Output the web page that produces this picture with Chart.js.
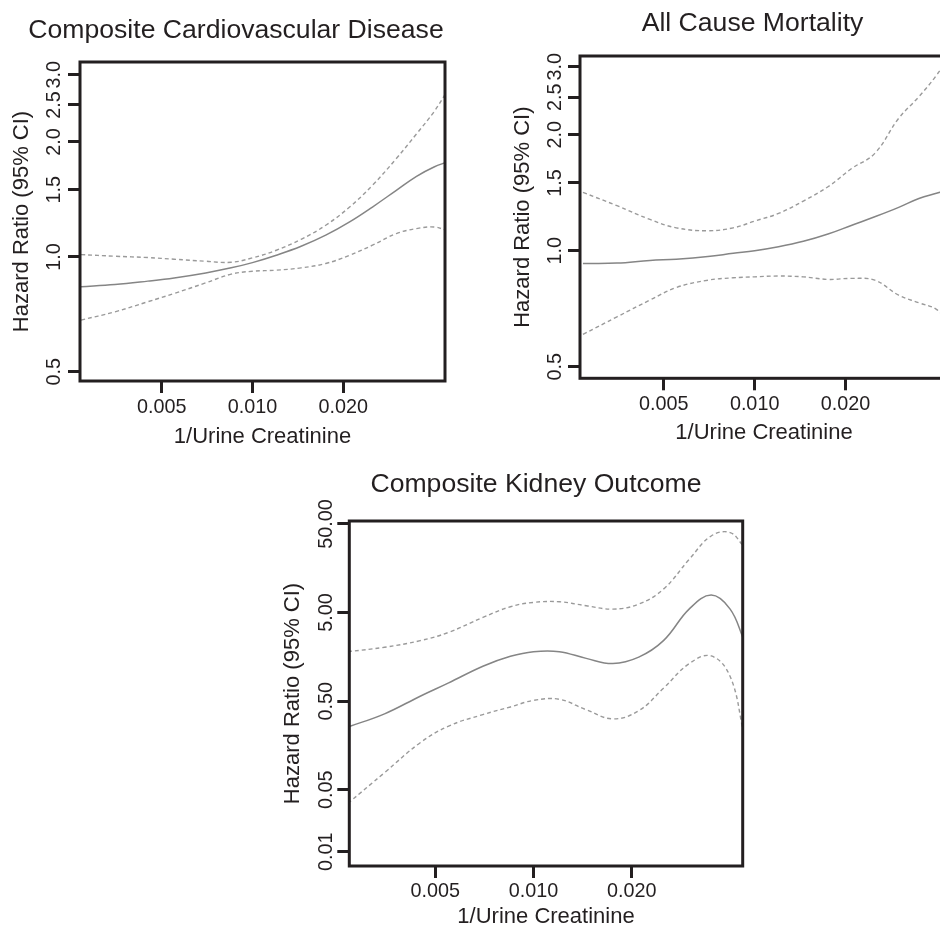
<!DOCTYPE html>
<html><head><meta charset="utf-8">
<script src="https://cdn.jsdelivr.net/npm/chart.js@4.4.1/dist/chart.umd.min.js"></script>
<style>
html,body{margin:0;padding:0;background:#fff;overflow:hidden;width:940px;height:928px;position:relative;}
canvas{position:absolute;}
</style></head><body>
<canvas id="c1" width="472" height="462" style="left:0px;top:0px"></canvas>
<canvas id="c2" width="565" height="460" style="left:470px;top:0px"></canvas>
<canvas id="c3" width="572" height="468" style="left:250px;top:460px"></canvas>
<script>
// ---- data ----
const xValues = [0.0027, 0.0035, 0.0045, 0.0055, 0.007, 0.0085, 0.010, 0.012, 0.0145, 0.0175, 0.021, 0.025, 0.030, 0.035, 0.040, 0.044];

const cvdHR    = [0.835, 0.846, 0.864, 0.881, 0.908, 0.936, 0.966, 1.010, 1.066, 1.140, 1.235, 1.351, 1.494, 1.626, 1.720, 1.770];
const cvdUpper = [1.014, 1.004, 0.996, 0.986, 0.974, 0.968, 0.994, 1.041, 1.112, 1.210, 1.351, 1.540, 1.810, 2.100, 2.400, 2.700];
const cvdLower = [0.683, 0.718, 0.763, 0.802, 0.855, 0.901, 0.917, 0.923, 0.936, 0.961, 1.010, 1.073, 1.151, 1.186, 1.198, 1.174];

const acmHR    = [0.927, 0.929, 0.944, 0.951, 0.966, 0.985, 1.000, 1.024, 1.058, 1.105, 1.165, 1.225, 1.296, 1.367, 1.410, 1.440];
const acmUpper = [1.417, 1.309, 1.206, 1.147, 1.127, 1.147, 1.194, 1.250, 1.346, 1.466, 1.636, 1.789, 2.205, 2.510, 2.850, 3.200];
const acmLower = [0.607, 0.674, 0.745, 0.803, 0.839, 0.851, 0.856, 0.860, 0.856, 0.843, 0.848, 0.839, 0.767, 0.733, 0.705, 0.650];

const kidHR    = [0.255, 0.360, 0.569, 0.804, 1.240, 1.605, 1.810, 1.810, 1.520, 1.330, 1.570, 2.410, 5.500, 7.870, 5.470, 2.500];
const kidUpper = [1.81, 2.03, 2.41, 2.99, 4.41, 5.82, 6.51, 6.62, 5.97, 5.47, 6.23, 9.20, 20.0, 36.6, 40.0, 28.0];
const kidLower = [0.035, 0.078, 0.170, 0.262, 0.353, 0.430, 0.510, 0.525, 0.400, 0.316, 0.390, 0.700, 1.330, 1.620, 0.950, 0.220];

const xTicks = [0.005, 0.010, 0.020];
const xTickLabels = ['0.005', '0.010', '0.020'];
const yTicksHR = [0.5, 1.0, 1.5, 2.0, 2.5, 3.0];
const yTickLabelsHR = ['0.5', '1.0', '1.5', '2.0', '2.5', '3.0'];
const yTicksKid = [0.01, 0.05, 0.5, 5, 50];
const yTickLabelsKid = ['0.01', '0.05', '0.50', '5.00', '50.00'];

const titles = ['Composite Cardiovascular Disease', 'All Cause Mortality', 'Composite Kidney Outcome'];
const xAxisTitle = '1/Urine Creatinine';
const yAxisTitle = 'Hazard Ratio (95% CI)';

// ---- style ----
const INK = '#231f20';
Chart.defaults.font.family = '"Liberation Sans", Arial, sans-serif';
Chart.defaults.color = INK;

const framePlugin = {
  id: 'frame',
  afterDatasetsDraw(chart) {
    const {ctx, chartArea: a} = chart;
    ctx.save();
    ctx.strokeStyle = INK;
    ctx.lineWidth = 3;
    ctx.strokeRect(a.left, a.top, a.right - a.left, a.bottom - a.top);
    ctx.restore();
  }
};

function pts(ys) { return xValues.map((x, i) => ({x: x, y: ys[i]})); }

function makePanel(id, p) {
  new Chart(document.getElementById(id), {
    type: 'line',
    data: {
      datasets: [
        {data: pts(p.up), borderColor: '#9a9a9a', borderWidth: 1.4, borderDash: [4, 3], pointRadius: 0, tension: 0.4, fill: false},
        {data: pts(p.lo), borderColor: '#9a9a9a', borderWidth: 1.4, borderDash: [4, 3], pointRadius: 0, tension: 0.4, fill: false},
        {data: pts(p.hr), borderColor: '#858585', borderWidth: 1.5, pointRadius: 0, tension: 0.4, fill: false}
      ]
    },
    options: {
      responsive: false,
      animation: false,
      events: [],
      layout: {padding: 0},
      plugins: {
        legend: {display: false},
        tooltip: {enabled: false},
        title: {display: true, text: p.title, font: {size: 26.6, weight: 'normal', lineHeight: 1.2}, color: INK,
                padding: {top: p.tPad[0], bottom: p.tPad[1]}}
      },
      scales: {
        x: {
          type: 'logarithmic', position: 'bottom', min: p.xMin, max: p.xMax,
          afterBuildTicks: s => { s.ticks = xTicks.map(v => ({value: v})); },
          afterFit: s => { s.height = p.xH; },
          ticks: {autoSkip: false, maxRotation: 0, minRotation: 0, padding: p.xTickPad, font: {size: 19.8, lineHeight: 1.2}, color: INK,
                  callback: (v, i) => xTickLabels[i]},
          grid: {display: true, drawOnChartArea: false, drawTicks: true, tickLength: 12, tickWidth: 3, tickColor: INK},
          border: {display: false},
          title: {display: true, text: xAxisTitle, font: {size: 22, lineHeight: p.xTitleLH}, color: INK, padding: {top: 0, bottom: p.xTitlePad}}
        },
        y: {
          type: 'logarithmic', position: 'left', min: p.yMin, max: p.yMax,
          afterBuildTicks: s => { s.ticks = p.yTicks.map(v => ({value: v})); },
          afterFit: s => { s.width = p.yW; },
          ticks: {autoSkip: false, minRotation: 90, maxRotation: 90, crossAlign: 'center', padding: p.yTickPad,
                  font: {size: 19.8, lineHeight: 1.2}, color: INK, callback: (v, i) => p.yLabels[i]},
          grid: {display: true, drawOnChartArea: false, drawTicks: true, tickLength: 12, tickWidth: 3, tickColor: INK},
          border: {display: false},
          title: {display: true, text: yAxisTitle, font: {size: 22, lineHeight: 1.2}, color: INK, padding: {top: p.yTitlePad, bottom: 0}}
        },
        sp: {
          axis: 'y', type: 'linear', position: 'right', display: true,
          ticks: {display: false}, grid: {display: false}, border: {display: false},
          afterFit: s => { s.width = p.spW; }
        }
      }
    },
    plugins: [framePlugin]
  });
}

makePanel('c1', {
  title: titles[0], tPad: [15.04, 15.04],
  xMin: 0.00268, xMax: 0.0435, yMin: 0.473, yMax: 3.24,
  yTicks: yTicksHR, yLabels: yTickLabelsHR,
  yW: 80, yTitlePad: 8.8, yTickPad: -0.76,
  xH: 81, xTickPad: 2.8, xTitlePad: 11.8, xTitleLH: 1.2,
  spW: 27,
  hr: cvdHR, up: cvdUpper, lo: cvdLower
});

makePanel('c2', {
  title: titles[1], tPad: [8.04, 16.04],
  xMin: 0.00264, xMax: 0.0437, yMin: 0.467, yMax: 3.20,
  yTicks: yTicksHR, yLabels: yTickLabelsHR,
  yW: 110, yTitlePad: 39.8, yTickPad: -1.76,
  xH: 81.7, xTickPad: 2.8, xTitlePad: 13.8, xTitleLH: 1.2,
  spW: 87,
  hr: acmHR, up: acmUpper, lo: acmLower
});

makePanel('c3', {
  title: titles[2], tPad: [9.04, 20.04],
  xMin: 0.00273, xMax: 0.0437, yMin: 0.0069, yMax: 54,
  yTicks: yTicksKid, yLabels: yTickLabelsKid,
  yW: 99.3, yTitlePad: 29.8, yTickPad: -14.2,
  xH: 62, xTickPad: 1.8, xTitlePad: 0, xTitleLH: 1.0,
  spW: 79.3,
  hr: kidHR, up: kidUpper, lo: kidLower
});
</script>
</body></html>
